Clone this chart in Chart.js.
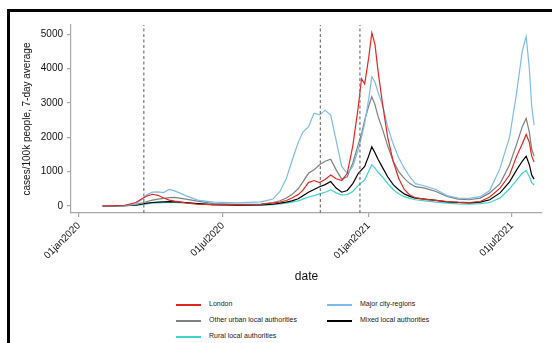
<!DOCTYPE html>
<html>
<head>
<meta charset="utf-8">
<script src="https://cdn.jsdelivr.net/npm/chart.js@4.4.0/dist/chart.umd.min.js"></script>
<style>
  html, body { margin: 0; padding: 0; background: #fff; overflow: hidden; width: 552px; height: 343px; }
  body { position: relative; font-family: "Liberation Sans", Arial, sans-serif; }
  #frame { position: absolute; left: 7px; top: 9px; width: 700px; height: 500px; border-left: 3px solid #000; border-top: 3px solid #000; }
  #wrap { position: absolute; left: 0; top: 0; width: 552px; height: 290px; }
  .leg { position: absolute; font-size: 7px; color: #222; line-height: 8px; white-space: nowrap; }
  .leg i { position: absolute; left: 0; top: 3px; width: 25px; height: 1.5px; }
  .leg b { position: absolute; font-weight: normal; left: 33px; top: -1px; }
</style>
</head>
<body>
<div id="frame"></div>
<div id="wrap"><canvas id="chart" width="552" height="290"></canvas></div>
<div id="legend"></div>
<script>
// days since 01jan2020
const days = [30, 44, 58, 72, 79, 86, 93, 100, 107, 114,
  121, 135, 150, 170, 200, 230, 245, 254, 262, 269,
  277, 283, 290, 297, 304, 311, 318, 325, 332, 339,
  346, 353, 357, 361, 366, 370, 374, 378, 384, 390,
  397, 404, 411, 418, 425, 437, 451, 465, 479, 493,
  507, 519, 532, 544, 553, 560, 565, 569, 572, 575];

const london = [5, 8, 20, 100, 200, 290, 340, 310, 230, 170,
  140, 90, 50, 40, 40, 50, 80, 110, 160, 230,
  330, 460, 680, 740, 680, 770, 900, 790, 740, 950,
  1750, 2900, 3700, 3550, 4300, 5040, 4700, 3900, 2900, 2000,
  1300, 800, 480, 320, 240, 190, 160, 130, 110, 100,
  130, 260, 520, 900, 1450, 1800, 2080, 1850, 1450, 1280];

const majorCity = [8, 10, 15, 60, 180, 330, 400, 410, 390, 480,
  440, 300, 170, 110, 90, 120, 200, 420, 800, 1300,
  1850, 2150, 2300, 2700, 2650, 2780, 2650, 1900, 1150, 950,
  1150, 1650, 2000, 2400, 3100, 3760, 3600, 3300, 2900, 2300,
  1800, 1400, 1100, 850, 650, 580, 480, 300, 230, 220,
  270, 450, 1100, 2000, 3300, 4500, 4930, 4000, 2900, 2350];

const otherUrban = [5, 8, 12, 40, 80, 130, 170, 200, 220, 240,
  250, 200, 140, 70, 45, 55, 100, 150, 230, 330,
  500, 700, 950, 1050, 1200, 1300, 1360, 1050, 780, 850,
  1250, 1800, 2100, 2500, 2900, 3180, 2950, 2600, 2200, 1750,
  1300, 1000, 800, 650, 560, 520, 420, 280, 200, 180,
  230, 380, 650, 1200, 1800, 2300, 2550, 2150, 1650, 1450];

const mixed = [3, 5, 8, 25, 50, 80, 100, 110, 120, 125,
  120, 100, 70, 40, 25, 30, 50, 80, 110, 150,
  210, 300, 400, 480, 560, 620, 710, 520, 400, 450,
  650, 950, 1050, 1150, 1450, 1720, 1550, 1350, 1100, 850,
  620, 470, 350, 280, 230, 200, 160, 120, 100, 90,
  110, 180, 380, 700, 1050, 1300, 1450, 1200, 900, 780];

const rural = [3, 5, 8, 20, 40, 60, 80, 90, 95, 105,
  100, 85, 60, 30, 20, 25, 40, 60, 80, 110,
  150, 200, 260, 300, 350, 400, 470, 380, 320, 330,
  420, 600, 680, 760, 1000, 1200, 1100, 980, 830, 650,
  480, 350, 270, 220, 180, 150, 110, 80, 60, 55,
  70, 100, 230, 500, 750, 950, 1030, 850, 680, 610];

// lockdown markers (days since 01jan2020)
const lockdownDays = [82, 305, 355];

const xTickDays = [0, 182, 366, 547];
const xTickLabels = ['01jan2020', '01jul2020', '01jan2021', '01jul2021'];
const yTicks = [0, 1000, 2000, 3000, 4000, 5000];

const seriesNames = ['London', 'Major city-regions', 'Other urban local authorities', 'Mixed local authorities', 'Rural local authorities'];
const seriesValues = [london, majorCity, otherUrban, mixed, rural];
const seriesColors = ['#e3261f', '#7dbbea', '#7f7f7f', '#000000', '#3fd3cf'];

const yMin = -205, yMax = 5265;

const datasets = [];
lockdownDays.forEach(d => {
    datasets.push({
        data: [{x: d, y: yMin}, {x: d, y: yMax}],
        borderColor: '#777',
        borderWidth: 1.2,
        borderDash: [3, 2.5],
        pointRadius: 0
    });
});
seriesValues.forEach((vals, i) => {
    datasets.push({
        label: seriesNames[i],
        data: vals.map((v, j) => ({x: days[j], y: v})),
        borderColor: seriesColors[i],
        borderWidth: 1.2,
        pointRadius: 0,
        tension: 0
    });
});

const axisColor = '#a8a8a8';

new Chart(document.getElementById('chart').getContext('2d'), {
    type: 'line',
    data: { datasets },
    options: {
        responsive: false,
        animation: false,
        layout: { padding: { left: 12, top: 25, right: 10, bottom: 0 } },
        plugins: { legend: { display: false }, tooltip: { enabled: false } },
        scales: {
            x: {
                type: 'linear',
                min: -10,
                max: 585,
                afterBuildTicks: (scale) => { scale.ticks = xTickDays.map(v => ({ value: v })); },
                afterFit: (scale) => { scale.height = 77; },
                grid: { drawOnChartArea: false, drawTicks: true, tickLength: 4, color: axisColor, lineWidth: 1.2 },
                border: { display: true, color: axisColor, width: 1.2 },
                ticks: {
                    autoSkip: false,
                    minRotation: 45,
                    maxRotation: 45,
                    padding: 3,
                    color: '#111',
                    font: { family: 'Liberation Sans', size: 10 },
                    callback: (v) => xTickLabels[xTickDays.indexOf(v)]
                },
                title: {
                    display: true,
                    text: 'date',
                    color: '#111',
                    font: { family: 'Liberation Sans', size: 12 },
                    padding: { top: 0, bottom: 6 }
                }
            },
            y: {
                min: yMin,
                max: yMax,
                afterBuildTicks: (scale) => { scale.ticks = yTicks.map(v => ({ value: v })); },
                afterFit: (scale) => { scale.width = 59; },
                grid: { drawOnChartArea: false, drawTicks: true, tickLength: 4, color: axisColor, lineWidth: 1.2 },
                border: { display: true, color: axisColor, width: 1.2 },
                ticks: {
                    padding: 4,
                    color: '#111',
                    font: { family: 'Liberation Sans', size: 10 },
                    callback: (v) => String(v)
                },
                title: {
                    display: true,
                    text: 'cases/100k people, 7-day average',
                    color: '#111',
                    font: { family: 'Liberation Sans', size: 10 },
                    padding: { top: 9, bottom: 0 }
                }
            }
        }
    }
});

// legend, two columns like the original
const legendPos = [[176, 301], [327, 301], [176, 317], [327, 317], [176, 333]];
const legendEl = document.getElementById('legend');
seriesNames.forEach((name, k) => {
    const item = document.createElement('div');
    item.className = 'leg';
    item.style.left = legendPos[k][0] + 'px';
    item.style.top = legendPos[k][1] + 'px';
    item.innerHTML = '<i style="background:' + seriesColors[k] + '"></i><b>' + name + '</b>';
    legendEl.appendChild(item);
});
</script>
</body>
</html>
